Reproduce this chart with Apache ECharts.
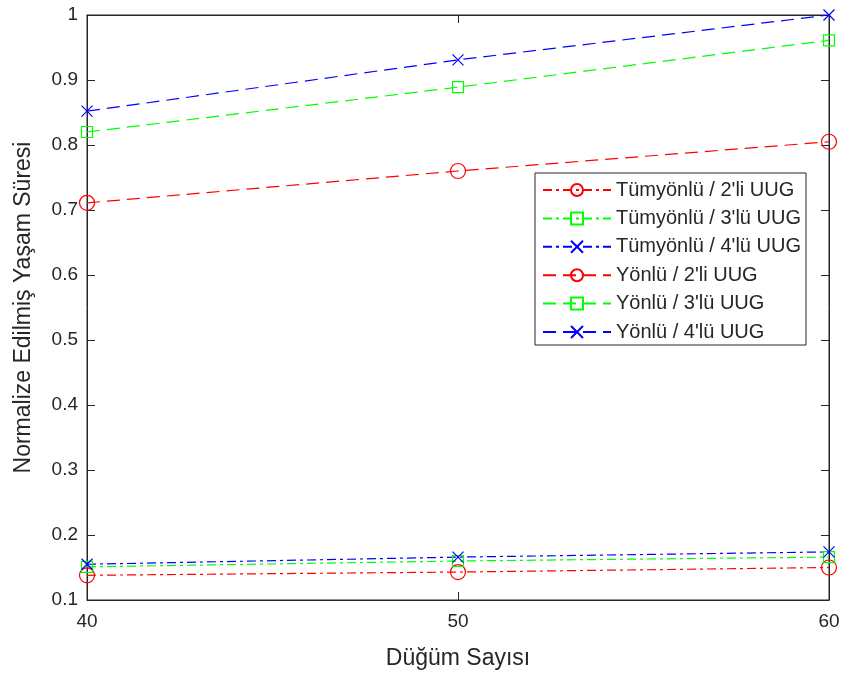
<!DOCTYPE html>
<html>
<head>
<meta charset="utf-8">
<script src="https://cdn.jsdelivr.net/npm/echarts@6/dist/echarts.min.js"></script>
<style>html,body{margin:0;padding:0;background:#fff}#c{width:844px;height:675px}</style>
</head>
<body>
<div id="c"></div>
<script>
const nodeCounts = [40, 50, 60];
const seriesNames = ['Tümyönlü / 2\'li UUG', 'Tümyönlü / 3\'lü UUG', 'Tümyönlü / 4\'lü UUG', 'Yönlü / 2\'li UUG', 'Yönlü / 3\'lü UUG', 'Yönlü / 4\'lü UUG'];
const tum2 = [0.138, 0.143, 0.150];
const tum3 = [0.151, 0.160, 0.166];
const tum4 = [0.155, 0.166, 0.174];
const yon2 = [0.711, 0.760, 0.805];
const yon3 = [0.820, 0.889, 0.961];
const yon4 = [0.852, 0.931, 1.000];
const xTicks = [40, 50, 60];
const yTicks = [0.1, 0.2, 0.3, 0.4, 0.5, 0.6, 0.7, 0.8, 0.9, 1];

const RED = '#ff0000', GREEN = '#00ff00', BLUE = '#0000ff';
const dashDot = [9, 4, 3, 4];
const dashed = [13, 7];
const xPath = 'path://M0,0L10,10M10,0L0,10';
const sqPath = 'path://M0,0L10,0L10,10L0,10Z';

function mk(name, vals, color, dash, symbol, size) {
  return {
    name: name,
    type: 'line',
    data: nodeCounts.map((x, i) => [x, vals[i]]),
    symbol: symbol,
    symbolSize: size,
    showAllSymbol: true,
    lineStyle: { color: color, width: 1.2, type: dash },
    itemStyle: { color: 'none', borderColor: color, borderWidth: 1.2 },
    emphasis: { disabled: true },
    animation: false
  };
}

const chart = echarts.init(document.getElementById('c'), null, { renderer: 'canvas' });
const axisColor = '#262626';
const font = 'Liberation Sans, Arial, sans-serif';
const tickStyle = { show: true, inside: true, length: 8, lineStyle: { color: axisColor, width: 1 } };
chart.setOption({
  backgroundColor: '#fff',
  animation: false,
  grid: { left: 87, right: 15, top: 15, bottom: 74, show: true, borderColor: axisColor, borderWidth: 1, backgroundColor: 'transparent' },
  legend: {
    left: 535, top: 173, orient: 'vertical',
    backgroundColor: '#fff', borderColor: axisColor, borderWidth: 1,
    padding: [7, 5, 3, 7],
    itemWidth: 68, itemHeight: 15, itemGap: 8.4,
    textStyle: { fontFamily: font, fontSize: 20, lineHeight: 20, color: axisColor },
    data: seriesNames
  },
  xAxis: [{
    type: 'value', min: 40, max: 60, interval: 10,
    name: 'Düğüm Sayısı', nameLocation: 'middle', nameGap: 47,
    nameTextStyle: { fontFamily: font, fontSize: 23, color: axisColor },
    axisLine: { show: true, lineStyle: { color: axisColor, width: 1 } },
    axisTick: tickStyle,
    axisLabel: { fontFamily: font, fontSize: 19, color: axisColor, margin: 12 },
    splitLine: { show: false }
  }, {
    type: 'value', position: 'top', min: 40, max: 60, interval: 10,
    axisLine: { show: true, lineStyle: { color: axisColor } },
    axisTick: tickStyle,
    axisLabel: { show: false }, splitLine: { show: false }
  }],
  yAxis: [{
    type: 'value', min: 0.1, max: 1, interval: 0.1,
    name: 'Normalize Edilmiş Yaşam Süresi', nameLocation: 'middle', nameGap: 52,
    nameTextStyle: { fontFamily: font, fontSize: 23, color: axisColor },
    axisLine: { show: true, lineStyle: { color: axisColor, width: 1 } },
    axisTick: tickStyle,
    axisLabel: { fontFamily: font, fontSize: 19, color: axisColor, margin: 9,
      formatter: v => String(+v.toFixed(1)) },
    splitLine: { show: false }
  }, {
    type: 'value', position: 'right', min: 0.1, max: 1, interval: 0.1,
    axisLine: { show: true, lineStyle: { color: axisColor } },
    axisTick: tickStyle,
    axisLabel: { show: false }, splitLine: { show: false }
  }],
  series: [
    mk(seriesNames[0], tum2, RED, dashDot, 'circle', 15),
    mk(seriesNames[1], tum3, GREEN, dashDot, sqPath, 11),
    mk(seriesNames[2], tum4, BLUE, dashDot, xPath, 11),
    mk(seriesNames[3], yon2, RED, dashed, 'circle', 15),
    mk(seriesNames[4], yon3, GREEN, dashed, sqPath, 11),
    mk(seriesNames[5], yon4, BLUE, dashed, xPath, 11)
  ]
});
</script>
</body>
</html>
